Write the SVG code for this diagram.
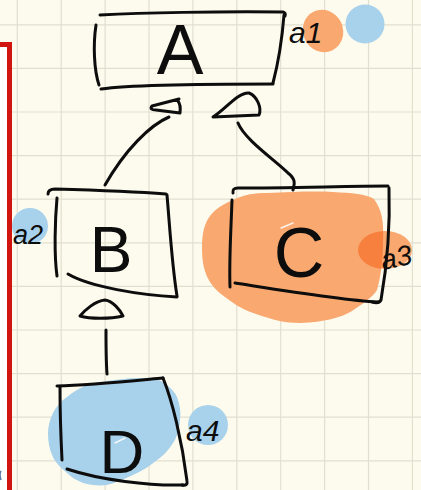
<svg xmlns="http://www.w3.org/2000/svg" width="421" height="490" viewBox="0 0 421 490">
  <defs>
    <style>
      .ink { fill: none; stroke: #0d0d0d; stroke-width: 3; stroke-linecap: round; stroke-linejoin: round; }
      .grid line { stroke: #e2dfcf; stroke-width: 1.2; }
      .orange { fill: #f9a96f; }
      .orange-dark { fill: #f8803f; }
      .blue { fill: #a8d1eb; }
      .glint { fill: none; stroke: #ffffff; stroke-width: 1.4; stroke-linecap: round; opacity: 0.85; }
      .letter { font-family: "Liberation Sans", Arial, sans-serif; fill: #0d0d0d; text-anchor: middle; }
      .tag { font-family: "Liberation Sans", Arial, sans-serif; fill: #0d0d0d; font-style: italic; }
    </style>
    <clipPath id="blob-c-clip">
      <path d="M233,200 C245,194 255,193 267,193 C290,192 315,191 333,192 C352,193 366,194 374,199 C382,210 384,222 383,240 C383,258 381,276 377,290 C372,298 362,304 352,311 C340,318 325,322 300,323 C285,323 275,320 265,317 C250,312 241,309 232,302 C222,295 215,290 210,282 C204,272 202,262 202,248 C202,234 204,224 210,216 C216,208 224,204 233,200 Z"/>
    </clipPath>
  </defs>

  <!-- paper -->
  <rect x="0" y="0" width="421" height="490" fill="#fdfbee"/>
  <g class="grid">
    <line x1="17.3" y1="0" x2="17.3" y2="490"/>
    <line x1="61.2" y1="0" x2="61.2" y2="490"/>
    <line x1="105.1" y1="0" x2="105.1" y2="490"/>
    <line x1="149" y1="0" x2="149" y2="490"/>
    <line x1="192.9" y1="0" x2="192.9" y2="490"/>
    <line x1="236.8" y1="0" x2="236.8" y2="490"/>
    <line x1="280.7" y1="0" x2="280.7" y2="490"/>
    <line x1="324.6" y1="0" x2="324.6" y2="490"/>
    <line x1="368.5" y1="0" x2="368.5" y2="490"/>
    <line x1="412.4" y1="0" x2="412.4" y2="490"/>
    <line x1="0" y1="24.8" x2="421" y2="24.8"/>
    <line x1="0" y1="68.4" x2="421" y2="68.4"/>
    <line x1="0" y1="112" x2="421" y2="112"/>
    <line x1="0" y1="155.6" x2="421" y2="155.6"/>
    <line x1="0" y1="199.2" x2="421" y2="199.2"/>
    <line x1="0" y1="242.8" x2="421" y2="242.8"/>
    <line x1="0" y1="286.4" x2="421" y2="286.4"/>
    <line x1="0" y1="330" x2="421" y2="330"/>
    <line x1="0" y1="373.6" x2="421" y2="373.6"/>
    <line x1="0" y1="417.2" x2="421" y2="417.2"/>
    <line x1="0" y1="460.8" x2="421" y2="460.8"/>
  </g>

  <!-- margin sheet with red border -->
  <rect x="0" y="47" width="7" height="443" fill="#ffffff"/>
  <path d="M1,471 Q-1,474 1,480" fill="none" stroke="#5577aa" stroke-width="1.5"/>

  <!-- node A -->
  <g id="node-a">
    <ellipse class="orange" cx="323" cy="31" rx="20" ry="21.5" transform="rotate(-25 323 31)"/>
    <circle class="blue" cx="365" cy="24" r="19.5"/>
    <path class="ink" d="M100,15 C140,13 220,11 283,12 Q286,13 285,16"/>
    <path class="ink" d="M284,15 C282,40 279,60 273,83"/>
    <path class="ink" d="M101,89 C130,85 200,84 273,84"/>
    <path class="ink" d="M96,25 C93,45 94,70 99,85"/>
    <text class="letter" x="180" y="74" font-size="70">A</text>
    <text class="tag" x="289" y="43" font-size="30">a1</text>
  </g>

  <!-- node B -->
  <g id="node-b">
    <circle class="blue" cx="30" cy="226" r="18"/>
    <path class="ink" d="M48,194 Q48,189 55,189 C90,190 140,192 166,194"/>
    <path class="ink" d="M167,195 C170,230 172,265 177,296"/>
    <path class="ink" d="M68,274 C90,287 140,295 177,297"/>
    <path class="ink" d="M57,198 C55,220 54,255 57,276"/>
    <text class="letter" x="111" y="272" font-size="64">B</text>
    <text class="tag" x="13" y="244" font-size="27">a2</text>
  </g>

  <!-- node C -->
  <g id="node-c">
    <ellipse class="orange" cx="385" cy="250" rx="27" ry="19"/>
    <path class="orange" d="M233,200 C245,194 255,193 267,193 C290,192 315,191 333,192 C352,193 366,194 374,199 C382,210 384,222 383,240 C383,258 381,276 377,290 C372,298 362,304 352,311 C340,318 325,322 300,323 C285,323 275,320 265,317 C250,312 241,309 232,302 C222,295 215,290 210,282 C204,272 202,262 202,248 C202,234 204,224 210,216 C216,208 224,204 233,200 Z"/>
    <ellipse class="orange-dark" cx="385" cy="250" rx="27" ry="19" clip-path="url(#blob-c-clip)"/>
    <path class="ink" d="M233,193 Q232,188 238,188 C290,188 350,186 388,186"/>
    <path class="ink" d="M389,188 C390,220 388,260 381,300 Q379,304 372,302"/>
    <path class="ink" d="M235,283 C280,290 340,300 378,302"/>
    <path class="ink" d="M232,200 C231,230 229,260 230,287"/>
    <text class="letter" x="299" y="277" font-size="70">C</text>
    <path class="glint" d="M281,228 L293,223"/>
    <text class="tag" x="383" y="270" font-size="28" transform="rotate(-12 383 270)">a3</text>
  </g>

  <!-- node D -->
  <g id="node-d">
    <path class="blue" d="M67,397 C78,388 90,383 100,382 C115,380 128,378 140,378 C150,378 158,379 163,382 C170,387 175,392 177,397 C180,405 181,412 180,420 C179,430 177,437 173,443 C168,451 163,456 157,460 C150,466 142,471 133,475 C124,479 115,483 107,485 C99,486 90,485 83,483 C76,480 71,477 67,473 C60,467 56,463 53,457 C49,449 48,441 48,433 C48,426 50,419 53,413 C56,407 61,401 67,397 Z"/>
    <circle class="blue" cx="208" cy="425" r="20"/>
    <path class="ink" d="M57,386 C90,385 130,381 163,378"/>
    <path class="ink" d="M163,378 C172,400 182,440 187,481 Q188,486 182,485"/>
    <path class="ink" d="M67,469 C100,480 150,486 183,485"/>
    <path class="ink" d="M60,387 C60,410 61,440 62,460"/>
    <text class="letter" x="122" y="473" font-size="62">D</text>
    <path class="glint" d="M115,443 L125,438"/>
    <text class="tag" x="186" y="441" font-size="30">a4</text>
  </g>

  <!-- connectors: hollow-triangle heads with their shafts -->
  <g id="connectors">
    <path class="ink" d="M179,99 L152,106 Q149,110 156,110 L180,113 Q181,105 178,101"/>
    <path class="ink" d="M169,117 C150,125 125,150 105,185"/>
    <path class="ink" d="M213,117 C225,110 238,92 249,93 C257,96 262,108 259,115 Z"/>
    <path class="ink" d="M238,123 C245,140 275,160 288,173 C297,180 294,185 293,190"/>
    <path class="ink" d="M80,316 C85,310 95,301 105,300 C113,301 120,310 123,316 C110,319 90,319 80,316 Z"/>
    <path class="ink" d="M106,330 C106,345 106,360 107,374"/>
  </g>

  <!-- red margin rule -->
  <path d="M0,44.5 L9.5,44.5 L9.5,490" fill="none" stroke="#d0140f" stroke-width="5"/>
</svg>
